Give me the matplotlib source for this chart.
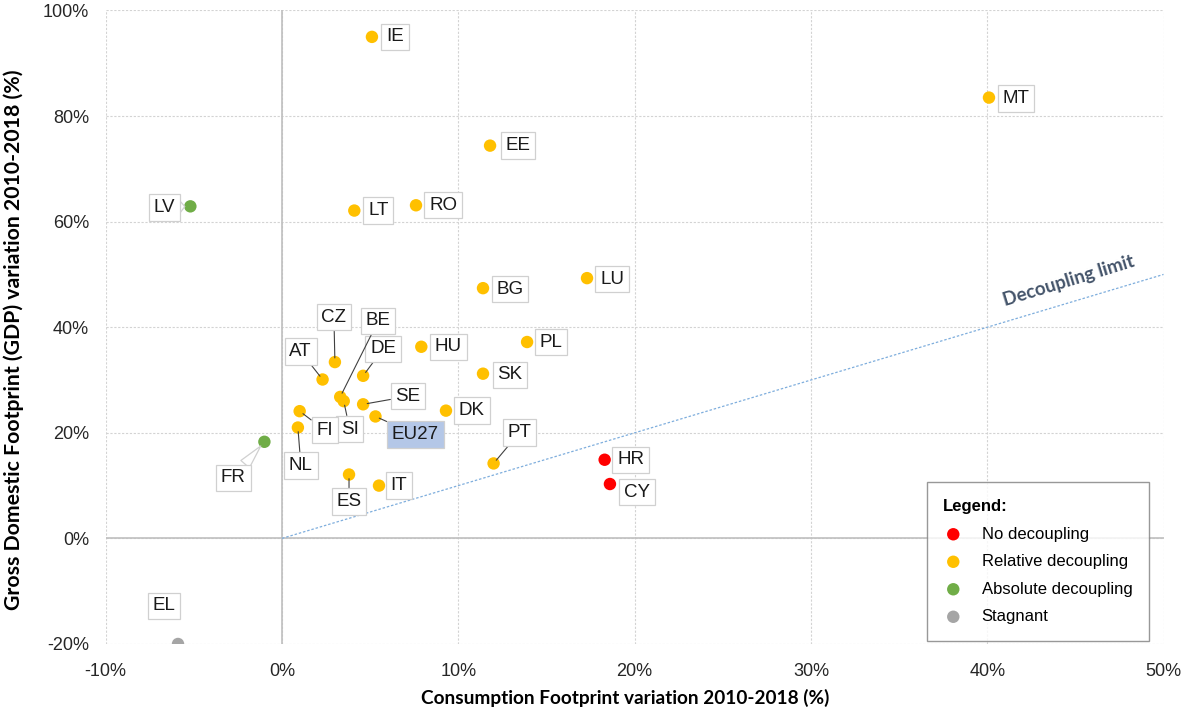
import matplotlib
matplotlib.use("Agg")
import matplotlib.pyplot as plt
from matplotlib.ticker import FuncFormatter

# consumption footprint variation (%) and GDP variation (%), 2010-2018
countries = ["IE", "MT", "EE", "LV", "LT", "RO", "LU", "BG", "PL", "HU",
             "SK", "DK", "PT", "HR", "CY", "FR", "EL", "CZ", "AT", "DE",
             "BE", "SI", "SE", "EU27", "FI", "NL", "ES", "IT"]
cons_var = [5.1, 40.1, 11.8, -5.2, 4.1, 7.6, 17.3, 11.4, 13.9, 7.9,
            11.4, 9.3, 12.0, 18.3, 18.6, -1.0, -5.9, 3.0, 2.3, 4.6,
            3.3, 3.5, 4.6, 5.3, 1.0, 0.9, 3.8, 5.5]
gdp_var = [95.0, 83.5, 74.4, 62.9, 62.1, 63.1, 49.3, 47.4, 37.2, 36.3,
           31.2, 24.2, 14.2, 14.9, 10.3, 18.3, -20.0, 33.4, 30.1, 30.8,
           26.8, 26.0, 25.4, 23.1, 24.1, 21.0, 12.1, 10.0]
status = ["rel", "rel", "rel", "abs", "rel", "rel", "rel", "rel", "rel", "rel",
          "rel", "rel", "rel", "none", "none", "abs", "stag", "rel", "rel", "rel",
          "rel", "rel", "rel", "rel", "rel", "rel", "rel", "rel"]

legend_order = ["none", "rel", "abs", "stag"]
legend_names = {"none": "No decoupling", "rel": "Relative decoupling",
                "abs": "Absolute decoupling", "stag": "Stagnant"}
colors = {"none": "#FF0000", "rel": "#FFC000", "abs": "#70AD47", "stag": "#A5A5A5"}

# label offsets in pixels (dx, dy) and the kind of leader drawn to the point
label_pos = {
    "IE": (23, 0, None), "MT": (27, -1, None), "EE": (28, 0, None),
    "LV": (-26, -1, "wedge"), "LT": (24, 0, None), "RO": (27, 0, None),
    "LU": (25, -1, None), "BG": (27, -1, None), "PL": (24, 0, None),
    "HU": (27, 0, None), "SK": (27, -1, None), "DK": (26, 0, None),
    "PT": (26, 31, "line"), "HR": (26, 0, None), "CY": (27, -8, None),
    "FR": (-31, -36, "wedge"), "EL": (-14, 38, None), "CZ": (-1, 45, "line"),
    "AT": (-22, 28, "line"), "DE": (20, 27, "line"), "BE": (38, 76, "line"),
    "SI": (6, -28, "line"), "SE": (45, 8, "line"), "EU27": (40, -18, "line"),
    "FI": (25, -19, "line"), "NL": (3, -38, "line"), "ES": (0, -27, "line"),
    "IT": (20, 0, None),
}

DPI = 100
PX = 72.0 / DPI

plt.rcParams["font.family"] = ["Liberation Sans", "DejaVu Sans"]

fig = plt.figure(figsize=(11.84, 7.13), dpi=DPI)
ax = fig.add_axes([0.0893, 0.0968, 0.8934, 0.8885])

ax.set_xlim(-10, 50)
ax.set_ylim(-20, 100)
ax.set_xticks(range(-10, 51, 10))
ax.set_yticks(range(-20, 101, 20))
pct = FuncFormatter(lambda v, p: f"{v:.0f}%")
ax.xaxis.set_major_formatter(pct)
ax.yaxis.set_major_formatter(pct)
for s in ax.spines.values():
    s.set_visible(False)
ax.tick_params(length=0, labelsize=13, colors="#262626")
ax.tick_params(axis="x", pad=14)
ax.tick_params(axis="y", pad=12)
ax.grid(True, color="#D3D3D3", linestyle=(0, (2, 1.5)), linewidth=0.8)
ax.set_axisbelow(True)

ax.axvline(0, color="#BFBFBF", linewidth=1.2, zorder=1)
ax.axhline(0, color="#BFBFBF", linewidth=1.2, zorder=1)

# y = x decoupling limit
ax.plot([0, 50], [0, 50], color="#7FAEDD", linestyle=(0, (2, 1.5)), linewidth=0.9, zorder=1)
ax.text(44.6, 48.7, "Decoupling limit", rotation=17, rotation_mode="anchor",
        ha="center", va="center", color="#44546A", fontsize=13.5,
        fontweight="bold", family="Lato")

for key in legend_order:
    xs = [x for x, s in zip(cons_var, status) if s == key]
    ys = [y for y, s in zip(gdp_var, status) if s == key]
    ax.scatter(xs, ys, s=80, color=colors[key], edgecolors="none", zorder=4,
               label=legend_names[key])

for name, x, y in zip(countries, cons_var, gdp_var):
    dx, dy, lead = label_pos[name]
    face = "#B4C7E7" if name == "EU27" else "white"
    box = dict(boxstyle="square,pad=0.25", fc=face, ec="#D0D0D0", lw=0.9)
    arrow = None
    if lead == "line":
        arrow = dict(arrowstyle="-", color="#404040", lw=0.8, shrinkA=0, shrinkB=3)
    elif lead == "wedge":
        arrow = dict(arrowstyle="wedge,tail_width=0.6", fc="white", ec="#D0D0D0",
                     lw=0.9, shrinkA=0, shrinkB=4)
    ax.annotate(name, xy=(x, y), xytext=(dx * PX, dy * PX), textcoords="offset points",
                ha="center", va="center", fontsize=13.5, color="#1A1A1A",
                bbox=box, arrowprops=arrow, zorder=5)

ax.set_xlabel("Consumption Footprint variation 2010-2018 (%)", fontsize=13.7,
              fontweight="bold", family="Lato")
ax.set_ylabel("Gross Domestic Footprint (GDP) variation 2010-2018 (%)", fontsize=15.3,
              fontweight="bold", family="Lato")
ax.xaxis.set_label_coords(0.491, -0.085)
ax.yaxis.set_label_coords(-0.087, 0.48)
ax.xaxis.label.set_va("center")
ax.yaxis.label.set_va("center")

leg = ax.legend(loc="lower right", bbox_to_anchor=(0.9863, 0.005), title="Legend:",
                alignment="left", frameon=True, fancybox=False, edgecolor="#7F7F7F",
                prop={"size": 12},
                title_fontproperties={"weight": "bold", "size": 12},
                handletextpad=1.1, labelspacing=0.75, borderpad=1.0, borderaxespad=0,
                handlelength=1.2)
leg.get_frame().set_linewidth(1.0)
leg.set_zorder(6)

fig.savefig("out.png", dpi=DPI)
